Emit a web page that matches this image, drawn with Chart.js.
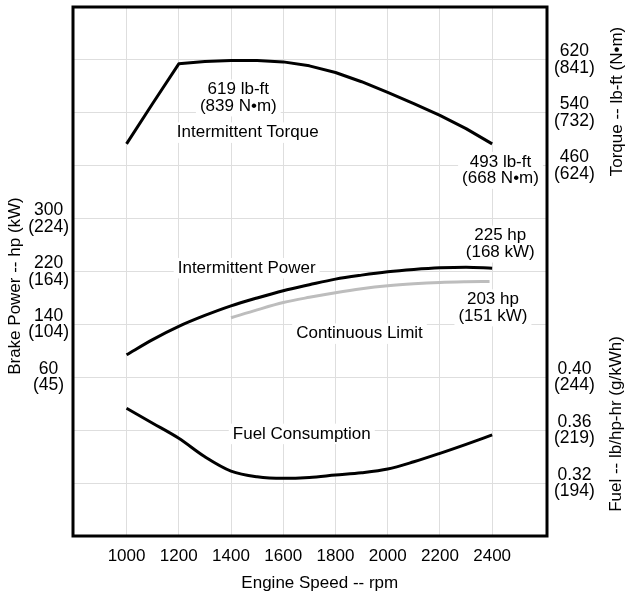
<!DOCTYPE html>
<html>
<head>
<meta charset="utf-8">
<title>Engine Performance Curves</title>
<script src="https://cdn.jsdelivr.net/npm/chart.js@4.4.1/dist/chart.umd.min.js"></script>
<style>
  html, body { margin: 0; padding: 0; background: #fff; }
  canvas { display: block; }
</style>
</head>
<body>
<canvas id="engineChart" width="625" height="594"></canvas>
<script>
// curves (every 100 rpm)
const rpm        = [1000, 1100, 1200, 1300, 1400, 1500, 1600, 1700, 1800, 1900, 2000, 2100, 2200, 2300, 2400];
const torqueLbFt = [493, 554, 614, 617.5, 619, 619, 617, 611, 601, 587, 571, 554, 536, 516, 493];
const powerHp    = [94, 117, 137, 153.5, 168, 180, 191, 200, 208.5, 214.5, 219.5, 223, 225.5, 226.5, 225];
const fuelLbHpHr = [0.3766, 0.3653, 0.3539, 0.3399, 0.3291, 0.3248, 0.3236, 0.3243, 0.3261, 0.3278, 0.3306, 0.3361, 0.3425, 0.3493, 0.3564];

// continuous limit only starts at 1400 rpm
const contRpm = [1400, 1500, 1600, 1700, 1800, 1900, 2000, 2100, 2200, 2300, 2390];
const contHp  = [150, 162, 173, 181, 188, 194, 198.5, 201.5, 203.5, 204.5, 205];

// tick labels
const rpmTicks    = [1000, 1200, 1400, 1600, 1800, 2000, 2200, 2400];
const hpTicks     = [60, 140, 220, 300];
const kwTicks     = [45, 104, 164, 224];
const torqueTicks = [460, 540, 620];
const nmTicks     = [624, 732, 841];
const fuelTicks   = [0.32, 0.36, 0.40];
const gkwhTicks   = [194, 219, 244];

// axis ranges (each horizontal grid step = 80 hp = 80 lb-ft = 0.04 lb/hp-hr)
const RPM_MIN = 795, RPM_MAX = 2610;
const HP_MIN = -180, HP_MAX = 620, HP_STEP = 80;
const TQ_MIN = -100, TQ_MAX = 700;
const FUEL_MIN = 0.28, FUEL_MAX = 0.68;

const FONT = '"Liberation Sans", Arial, Helvetica, sans-serif';
const GRID = '#dedede';
const NOTE_LINE = 16.5;

// text written inside the plot, anchored in data units
const notes = [
  { lines: ['619 lb-ft', '(839 N\u2022m)'], x: 1428, y: 562.5, axis: 'yT' },
  { lines: ['Intermittent Torque'],          x: 1464, y: 510,   axis: 'yT' },
  { lines: ['493 lb-ft', '(668 N\u2022m)'], x: 2432, y: 453,   axis: 'yT' },
  { lines: ['225 hp', '(168 kW)'],          x: 2431, y: 261.5, axis: 'yP' },
  { lines: ['Intermittent Power'],           x: 1460, y: 225,   axis: 'yP' },
  { lines: ['203 hp', '(151 kW)'],          x: 2403, y: 165,   axis: 'yP' },
  { lines: ['Continuous Limit'],             x: 1892, y: 126,   axis: 'yP' },
  { lines: ['Fuel Consumption'],             x: 1671, y: 0.3572, axis: 'yF' }
];

// fuel labels share the right-hand column with torque
const fuelOnTorque = f => TQ_MIN + (f - FUEL_MIN) / (FUEL_MAX - FUEL_MIN) * (TQ_MAX - TQ_MIN);

function noPadding(s) {
  s.paddingTop = 0; s.paddingBottom = 0; s.paddingLeft = 0; s.paddingRight = 0;
}

const curveNotes = {
  id: 'curveNotes',
  beforeDatasetsDraw(chart) {
    const ctx = chart.ctx;
    const xs = chart.scales.x;
    ctx.save();
    ctx.font = '17px ' + FONT;
    ctx.textAlign = 'center';
    ctx.textBaseline = 'middle';
    notes.forEach(n => {
      const cx = xs.getPixelForValue(n.x);
      const cy = chart.scales[n.axis].getPixelForValue(n.y);
      const w = Math.max(...n.lines.map(t => ctx.measureText(t).width)) + 8;
      const h = n.lines.length * NOTE_LINE + 4;
      ctx.fillStyle = '#fff';
      ctx.fillRect(cx - w / 2, cy - h / 2, w, h);
      ctx.fillStyle = '#000';
      n.lines.forEach((t, i) => {
        ctx.fillText(t, cx, cy + (i - (n.lines.length - 1) / 2) * NOTE_LINE);
      });
    });
    ctx.restore();
  },
  afterDatasetsDraw(chart) {
    const { ctx, chartArea: a } = chart;
    ctx.save();
    ctx.strokeStyle = '#000';
    ctx.lineWidth = 3;
    ctx.strokeRect(a.left, a.top, a.right - a.left, a.bottom - a.top);
    ctx.restore();
  },
  afterDraw(chart) {
    const { ctx, chartArea: a, scales } = chart;
    ctx.save();
    ctx.font = '17px ' + FONT;
    ctx.fillStyle = '#000';
    ctx.textAlign = 'center';
    ctx.textBaseline = 'middle';
    ctx.fillText('Engine Speed -- rpm', scales.x.getPixelForValue(1740), a.bottom + 47);

    const vertical = (text, x, y) => {
      ctx.save();
      ctx.translate(x, y);
      ctx.rotate(-Math.PI / 2);
      ctx.fillText(text, 0, 0);
      ctx.restore();
    };
    vertical('Brake Power -- hp (kW)', a.left - 58, scales.yP.getPixelForValue(198));
    vertical('Torque -- lb-ft (N\u2022m)', a.right + 70, scales.yT.getPixelForValue(557));
    vertical('Fuel -- lb/hp-hr (g/kWh)', a.right + 69, scales.yF.getPixelForValue(0.3647));
    ctx.restore();
  }
};

const tickFont = { family: FONT, size: 17.5, lineHeight: 0.943 };

new Chart(document.getElementById('engineChart'), {
  type: 'line',
  data: {
    datasets: [
      {
        label: 'Intermittent Torque',
        data: rpm.map((r, i) => ({ x: r, y: torqueLbFt[i] })),
        yAxisID: 'yT',
        borderColor: '#000',
        borderWidth: 3,
        borderJoinStyle: 'round',
        pointRadius: 0,
        tension: 0
      },
      {
        label: 'Intermittent Power',
        data: rpm.map((r, i) => ({ x: r, y: powerHp[i] })),
        yAxisID: 'yP',
        borderColor: '#000',
        borderWidth: 3,
        pointRadius: 0,
        cubicInterpolationMode: 'monotone'
      },
      {
        label: 'Continuous Limit',
        data: contRpm.map((r, i) => ({ x: r, y: contHp[i] })),
        yAxisID: 'yP',
        borderColor: '#bdbdbd',
        borderWidth: 3,
        pointRadius: 0,
        cubicInterpolationMode: 'monotone'
      },
      {
        label: 'Fuel Consumption',
        data: rpm.map((r, i) => ({ x: r, y: fuelLbHpHr[i] })),
        yAxisID: 'yF',
        borderColor: '#000',
        borderWidth: 3,
        pointRadius: 0,
        cubicInterpolationMode: 'monotone'
      }
    ]
  },
  options: {
    responsive: false,
    animation: false,
    layout: { padding: { top: 7, left: 0, right: 0, bottom: 0 } },
    plugins: {
      legend: { display: false },
      tooltip: { enabled: false }
    },
    scales: {
      x: {
        type: 'linear',
        min: RPM_MIN,
        max: RPM_MAX,
        afterBuildTicks: axis => { axis.ticks = rpmTicks.map(v => ({ value: v })); },
        afterFit: s => { s.height = 58; noPadding(s); },
        grid: { color: GRID, lineWidth: 1, drawTicks: false },
        border: { display: false },
        ticks: {
          autoSkip: false,
          maxRotation: 0,
          padding: 10,
          color: '#000',
          font: { family: FONT, size: 17 },
          callback: v => String(v)
        }
      },
      yP: {
        type: 'linear',
        position: 'left',
        min: HP_MIN,
        max: HP_MAX,
        afterBuildTicks: axis => {
          const t = [];
          for (let v = HP_MIN + HP_STEP; v < HP_MAX; v += HP_STEP) t.push({ value: v });
          axis.ticks = t;
        },
        afterFit: s => { s.width = 73; noPadding(s); },
        grid: { color: GRID, lineWidth: 1, drawTicks: false },
        border: { display: false },
        ticks: {
          autoSkip: false,
          crossAlign: 'center',
          padding: 4,
          color: '#000',
          font: tickFont,
          callback: v => {
            const i = hpTicks.indexOf(v);
            return i < 0 ? '' : [String(v), '(' + kwTicks[i] + ')'];
          }
        }
      },
      yT: {
        type: 'linear',
        position: 'right',
        min: TQ_MIN,
        max: TQ_MAX,
        afterBuildTicks: axis => {
          axis.ticks = fuelTicks.map(f => ({ value: fuelOnTorque(f) }))
            .concat(torqueTicks.map(v => ({ value: v })));
        },
        afterFit: s => { s.width = 78; noPadding(s); },
        grid: { display: false, drawTicks: false },
        border: { display: false },
        ticks: {
          autoSkip: false,
          crossAlign: 'center',
          padding: 7,
          color: '#000',
          font: tickFont,
          callback: v => {
            const i = torqueTicks.indexOf(v);
            if (i >= 0) return [String(v), '(' + nmTicks[i] + ')'];
            const j = fuelTicks.findIndex(f => Math.abs(fuelOnTorque(f) - v) < 1e-6);
            return j < 0 ? '' : [fuelTicks[j].toFixed(2), '(' + gkwhTicks[j] + ')'];
          }
        }
      },
      yF: {
        type: 'linear',
        position: 'right',
        display: false,
        min: FUEL_MIN,
        max: FUEL_MAX
      }
    }
  },
  plugins: [curveNotes]
});
</script>
</body>
</html>
